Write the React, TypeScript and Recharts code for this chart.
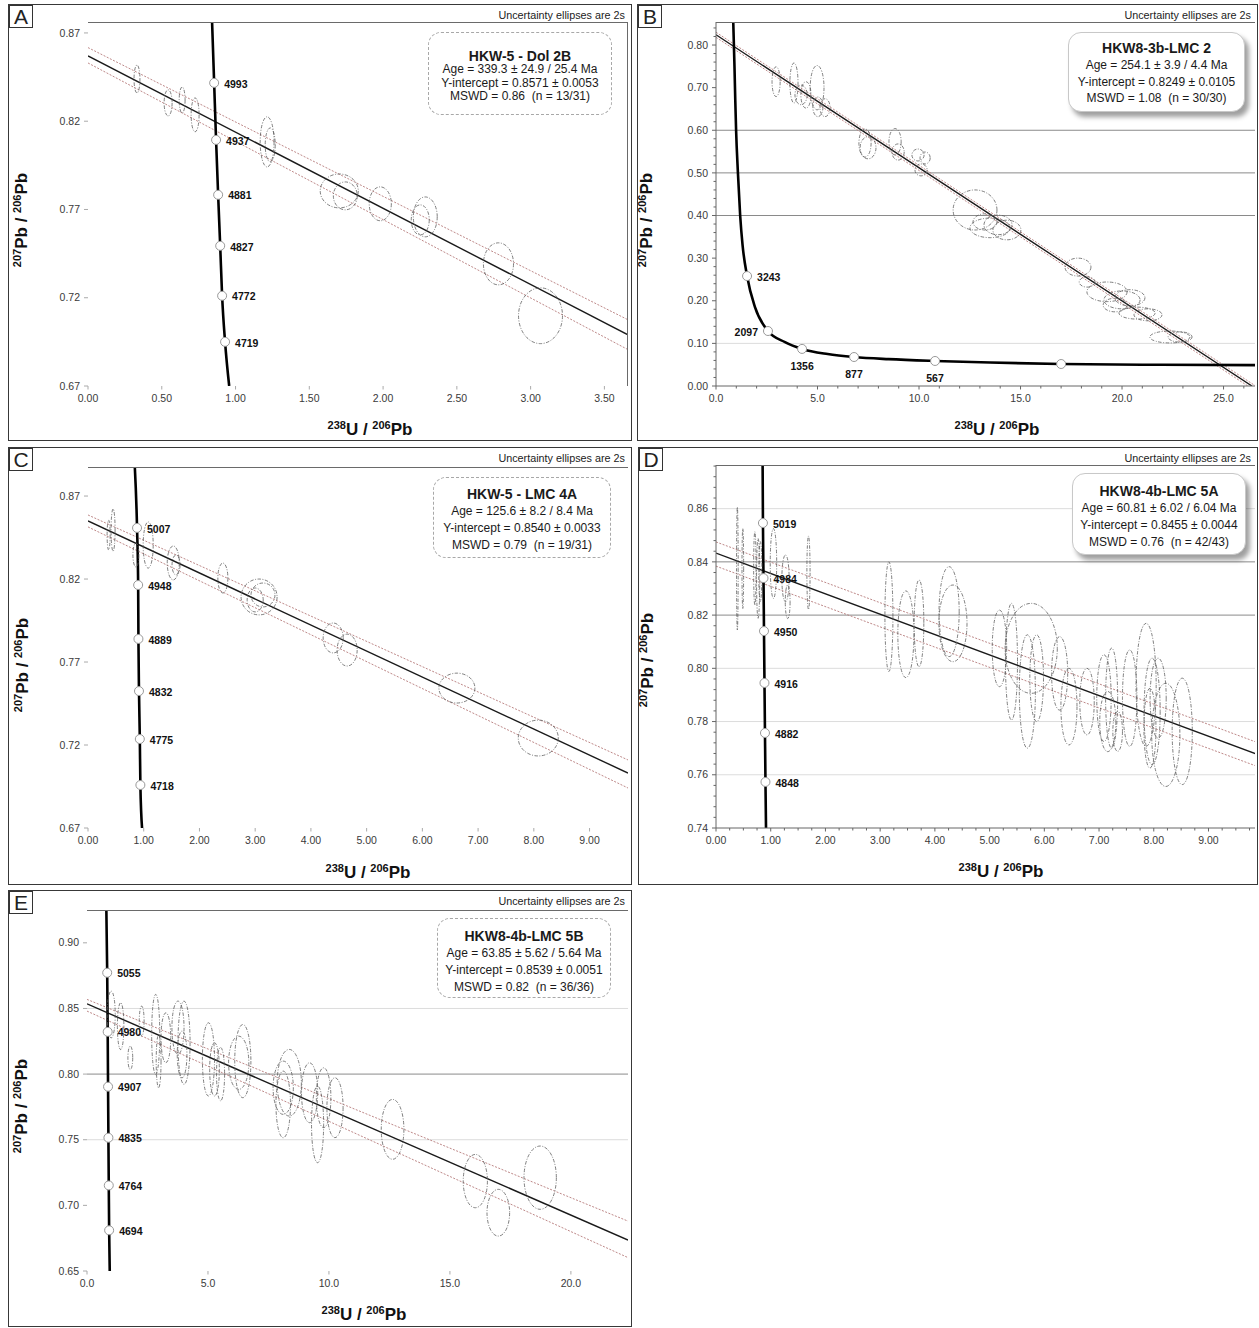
import React from 'react';
import { ComposedChart, XAxis, YAxis, Scatter, Line, ReferenceLine } from 'recharts';

const SANS = '"Liberation Sans", Arial, Helvetica, sans-serif';

type Pt = { x: number; y: number };
type Ell = { x: number; y: number; rx: number; ry: number };
type Mark = { x: number; y: number; age: string };

// tick helper (positions of minor ticks only)
const range = (a: number, b: number, s: number) => {
  const out: number[] = [];
  for (let v = a; v <= b + 1e-9; v += s) out.push(+v.toFixed(4));
  return out;
};

// ---------- A : HKW-5 - Dol 2B ----------
const aXTicks = [0, 0.5, 1, 1.5, 2, 2.5, 3, 3.5];
const aYTicks = [0.67, 0.72, 0.77, 0.82, 0.87];
const aRegression: Pt[] = [{ x: 0, y: 0.857 }, { x: 3.66, y: 0.699 }];
const aUpper: Pt[] = [{ x: 0, y: 0.8617 }, { x: 3.66, y: 0.7075 }];
const aLower: Pt[] = [{ x: 0, y: 0.853 }, { x: 3.66, y: 0.6906 }];
const aConcordia: Pt[] = [
  { x: 0.841, y: 0.8762 }, { x: 0.855, y: 0.8417 }, { x: 0.868, y: 0.8094 }, { x: 0.882, y: 0.7783 },
  { x: 0.896, y: 0.7494 }, { x: 0.909, y: 0.7211 }, { x: 0.929, y: 0.695 }, { x: 0.957, y: 0.67 },
];
const aAges: Mark[] = [
  { x: 0.855, y: 0.8417, age: '4993' }, { x: 0.868, y: 0.8094, age: '4937' }, { x: 0.882, y: 0.7783, age: '4881' },
  { x: 0.896, y: 0.7494, age: '4827' }, { x: 0.909, y: 0.7211, age: '4772' }, { x: 0.929, y: 0.695, age: '4719' },
];
const aEllipses: Ell[] = [
  { x: 0.332, y: 0.8439, rx: 0.02, ry: 0.0079 },
  { x: 0.543, y: 0.8304, rx: 0.027, ry: 0.0074 },
  { x: 0.638, y: 0.832, rx: 0.02, ry: 0.0074 },
  { x: 0.726, y: 0.8236, rx: 0.027, ry: 0.0096 },
  { x: 1.214, y: 0.8083, rx: 0.047, ry: 0.0142 },
  { x: 1.235, y: 0.8066, rx: 0.034, ry: 0.0096 },
  { x: 1.703, y: 0.7805, rx: 0.129, ry: 0.0096 },
  { x: 1.744, y: 0.7777, rx: 0.081, ry: 0.0079 },
  { x: 1.981, y: 0.7732, rx: 0.075, ry: 0.0096 },
  { x: 2.286, y: 0.7658, rx: 0.081, ry: 0.0113 },
  { x: 2.252, y: 0.7641, rx: 0.061, ry: 0.0085 },
  { x: 2.782, y: 0.7392, rx: 0.102, ry: 0.0119 },
  { x: 3.067, y: 0.7098, rx: 0.149, ry: 0.0158 },
];
const aInfo = ['HKW-5 - Dol 2B', 'Age = 339.3 ± 24.9 / 25.4 Ma', 'Y-intercept = 0.8571 ± 0.0053', 'MSWD = 0.86  (n = 13/31)'];

// ---------- B : HKW8-3b-LMC 2 ----------
const bXTicks = [0, 5, 10, 15, 20, 25];
const bYTicks = [0, 0.1, 0.2, 0.3, 0.4, 0.5, 0.6, 0.7, 0.8];
const bGridDark = [0.4, 0.5, 0.6];
const bGridLight = [0.1];
const bRegression: Pt[] = [{ x: 0, y: 0.824 }, { x: 26.4, y: 0 }];
const bUpper: Pt[] = [{ x: 0, y: 0.83 }, { x: 26.55, y: 0.001 }];
const bLower: Pt[] = [{ x: 0, y: 0.818 }, { x: 26.2, y: 0 }];
const bConcordia: Pt[] = [
  { x: 0.85, y: 0.854 }, { x: 0.91, y: 0.75 }, { x: 0.95, y: 0.67 }, { x: 0.99, y: 0.6 }, { x: 1.08, y: 0.5 },
  { x: 1.19, y: 0.4 }, { x: 1.31, y: 0.33 }, { x: 1.53, y: 0.258 }, { x: 1.92, y: 0.185 }, { x: 2.56, y: 0.129 },
  { x: 3.4, y: 0.103 }, { x: 4.24, y: 0.087 }, { x: 5.5, y: 0.075 }, { x: 6.8, y: 0.068 }, { x: 8.5, y: 0.063 },
  { x: 10.79, y: 0.0587 }, { x: 13.5, y: 0.055 }, { x: 17.0, y: 0.0516 }, { x: 21.0, y: 0.05 }, { x: 26.55, y: 0.049 },
];
const bAges: Mark[] = [
  { x: 1.53, y: 0.258, age: '3243' }, { x: 2.56, y: 0.129, age: '2097' }, { x: 4.24, y: 0.087, age: '1356' },
  { x: 6.8, y: 0.068, age: '877' }, { x: 10.79, y: 0.0587, age: '567' }, { x: 17.0, y: 0.0516, age: '' },
];
const bLabelSide: Record<string, string> = { '3243': 'right', '2097': 'left', '1356': 'below', '877': 'below', '567': 'below' };
const bEllipses: Ell[] = [
  { x: 2.96, y: 0.714, rx: 0.2, ry: 0.035 },
  { x: 3.84, y: 0.711, rx: 0.2, ry: 0.047 },
  { x: 4.19, y: 0.683, rx: 0.3, ry: 0.023 },
  { x: 4.43, y: 0.683, rx: 0.25, ry: 0.031 },
  { x: 4.98, y: 0.7, rx: 0.34, ry: 0.052 },
  { x: 5.02, y: 0.655, rx: 0.25, ry: 0.023 },
  { x: 5.37, y: 0.653, rx: 0.25, ry: 0.021 },
  { x: 7.34, y: 0.57, rx: 0.3, ry: 0.033 },
  { x: 7.49, y: 0.559, rx: 0.39, ry: 0.026 },
  { x: 8.82, y: 0.573, rx: 0.3, ry: 0.031 },
  { x: 8.97, y: 0.549, rx: 0.3, ry: 0.019 },
  { x: 9.95, y: 0.542, rx: 0.3, ry: 0.014 },
  { x: 10.1, y: 0.507, rx: 0.3, ry: 0.014 },
  { x: 10.3, y: 0.535, rx: 0.25, ry: 0.014 },
  { x: 12.76, y: 0.413, rx: 1.08, ry: 0.047 },
  { x: 13.25, y: 0.385, rx: 0.59, ry: 0.019 },
  { x: 13.5, y: 0.371, rx: 0.99, ry: 0.023 },
  { x: 13.89, y: 0.378, rx: 0.69, ry: 0.023 },
  { x: 14.33, y: 0.366, rx: 0.69, ry: 0.023 },
  { x: 17.83, y: 0.279, rx: 0.64, ry: 0.021 },
  { x: 18.28, y: 0.244, rx: 0.39, ry: 0.012 },
  { x: 19.26, y: 0.221, rx: 0.99, ry: 0.023 },
  { x: 19.66, y: 0.19, rx: 0.59, ry: 0.016 },
  { x: 20.0, y: 0.202, rx: 0.89, ry: 0.021 },
  { x: 20.39, y: 0.207, rx: 0.74, ry: 0.019 },
  { x: 20.74, y: 0.171, rx: 0.89, ry: 0.014 },
  { x: 21.28, y: 0.167, rx: 0.69, ry: 0.014 },
  { x: 22.36, y: 0.115, rx: 0.99, ry: 0.014 },
  { x: 22.86, y: 0.115, rx: 0.59, ry: 0.012 },
];
const bInfo = ['HKW8-3b-LMC 2', 'Age = 254.1 ± 3.9 / 4.4 Ma', 'Y-intercept = 0.8249 ± 0.0105', 'MSWD = 1.08  (n = 30/30)'];

// ---------- C : HKW-5 - LMC 4A ----------
const cXTicks = [0, 1, 2, 3, 4, 5, 6, 7, 8, 9];
const cYTicks = [0.67, 0.72, 0.77, 0.82, 0.87];
const cRegression: Pt[] = [{ x: 0, y: 0.855 }, { x: 9.69, y: 0.7031 }];
const cUpper: Pt[] = [{ x: 0, y: 0.8586 }, { x: 9.69, y: 0.711 }];
const cLower: Pt[] = [{ x: 0, y: 0.8514 }, { x: 9.69, y: 0.6941 }];
const cConcordia: Pt[] = [
  { x: 0.84, y: 0.8875 }, { x: 0.88, y: 0.8508 }, { x: 0.9, y: 0.8164 }, { x: 0.905, y: 0.7839 },
  { x: 0.915, y: 0.7525 }, { x: 0.93, y: 0.7236 }, { x: 0.94, y: 0.6959 }, { x: 0.97, y: 0.67 },
];
const cAges: Mark[] = [
  { x: 0.88, y: 0.8508, age: '5007' }, { x: 0.9, y: 0.8164, age: '4948' }, { x: 0.905, y: 0.7839, age: '4889' },
  { x: 0.915, y: 0.7525, age: '4832' }, { x: 0.93, y: 0.7236, age: '4775' }, { x: 0.94, y: 0.6959, age: '4718' },
];
const cEllipses: Ell[] = [
  { x: 0.45, y: 0.8495, rx: 0.036, ry: 0.0127 },
  { x: 0.37, y: 0.8465, rx: 0.027, ry: 0.009 },
  { x: 1.08, y: 0.8405, rx: 0.09, ry: 0.0139 },
  { x: 0.86, y: 0.8345, rx: 0.054, ry: 0.0072 },
  { x: 1.53, y: 0.8297, rx: 0.108, ry: 0.0102 },
  { x: 1.58, y: 0.8285, rx: 0.072, ry: 0.006 },
  { x: 2.42, y: 0.8206, rx: 0.09, ry: 0.009 },
  { x: 3.07, y: 0.8092, rx: 0.323, ry: 0.0108 },
  { x: 3.14, y: 0.8104, rx: 0.215, ry: 0.0072 },
  { x: 3.0, y: 0.8074, rx: 0.144, ry: 0.0072 },
  { x: 4.4, y: 0.7845, rx: 0.18, ry: 0.009 },
  { x: 4.65, y: 0.7772, rx: 0.18, ry: 0.0096 },
  { x: 6.62, y: 0.7543, rx: 0.323, ry: 0.009 },
  { x: 8.08, y: 0.7242, rx: 0.359, ry: 0.0108 },
];
const cInfo = ['HKW-5 - LMC 4A', 'Age = 125.6 ± 8.2 / 8.4 Ma', 'Y-intercept = 0.8540 ± 0.0033', 'MSWD = 0.79  (n = 19/31)'];

// ---------- D : HKW8-4b-LMC 5A ----------
const dXTicks = [0, 1, 2, 3, 4, 5, 6, 7, 8, 9];
const dYTicks = [0.74, 0.76, 0.78, 0.8, 0.82, 0.84, 0.86];
const dGridDark = [0.82, 0.84];
const dGridLight = [0.76, 0.78, 0.8, 0.86];
const dRegression: Pt[] = [{ x: 0, y: 0.8433 }, { x: 9.87, y: 0.7678 }];
const dUpper: Pt[] = [{ x: 0, y: 0.8475 }, { x: 9.87, y: 0.7723 }];
const dLower: Pt[] = [{ x: 0, y: 0.8384 }, { x: 9.87, y: 0.7633 }];
const dConcordia: Pt[] = [
  { x: 0.852, y: 0.8764 }, { x: 0.858, y: 0.8546 }, { x: 0.868, y: 0.8339 }, { x: 0.877, y: 0.814 },
  { x: 0.886, y: 0.7945 }, { x: 0.895, y: 0.7757 }, { x: 0.904, y: 0.7573 }, { x: 0.914, y: 0.74 },
];
const dAges: Mark[] = [
  { x: 0.858, y: 0.8546, age: '5019' }, { x: 0.868, y: 0.8339, age: '4984' }, { x: 0.877, y: 0.814, age: '4950' },
  { x: 0.886, y: 0.7945, age: '4916' }, { x: 0.895, y: 0.7757, age: '4882' }, { x: 0.904, y: 0.7573, age: '4848' },
];
const dEllipses: Ell[] = [
  { x: 0.39, y: 0.8375, rx: 0.015, ry: 0.0231 },
  { x: 0.49, y: 0.8375, rx: 0.015, ry: 0.015 },
  { x: 0.71, y: 0.8375, rx: 0.022, ry: 0.0138 },
  { x: 0.77, y: 0.8338, rx: 0.029, ry: 0.015 },
  { x: 0.81, y: 0.8363, rx: 0.029, ry: 0.0113 },
  { x: 1.05, y: 0.8394, rx: 0.059, ry: 0.0131 },
  { x: 1.27, y: 0.8338, rx: 0.066, ry: 0.0088 },
  { x: 1.31, y: 0.825, rx: 0.044, ry: 0.0063 },
  { x: 1.69, y: 0.8359, rx: 0.029, ry: 0.0138 },
  { x: 3.16, y: 0.8194, rx: 0.073, ry: 0.0206 },
  { x: 3.47, y: 0.8128, rx: 0.147, ry: 0.0163 },
  { x: 3.71, y: 0.8169, rx: 0.088, ry: 0.0163 },
  { x: 4.26, y: 0.8213, rx: 0.184, ry: 0.0169 },
  { x: 4.33, y: 0.8169, rx: 0.257, ry: 0.0144 },
  { x: 5.18, y: 0.8075, rx: 0.132, ry: 0.0144 },
  { x: 5.4, y: 0.8025, rx: 0.11, ry: 0.0219 },
  { x: 5.76, y: 0.8075, rx: 0.477, ry: 0.0169 },
  { x: 5.69, y: 0.7913, rx: 0.147, ry: 0.0213 },
  { x: 5.86, y: 0.7963, rx: 0.125, ry: 0.0163 },
  { x: 6.28, y: 0.7981, rx: 0.147, ry: 0.0138 },
  { x: 6.45, y: 0.7856, rx: 0.147, ry: 0.0144 },
  { x: 6.78, y: 0.7875, rx: 0.132, ry: 0.0125 },
  { x: 7.09, y: 0.7888, rx: 0.132, ry: 0.0163 },
  { x: 7.16, y: 0.78, rx: 0.147, ry: 0.0113 },
  { x: 7.23, y: 0.7888, rx: 0.11, ry: 0.0188 },
  { x: 7.34, y: 0.7763, rx: 0.088, ry: 0.0075 },
  { x: 7.56, y: 0.7888, rx: 0.132, ry: 0.0181 },
  { x: 7.86, y: 0.7938, rx: 0.184, ry: 0.0231 },
  { x: 7.93, y: 0.7775, rx: 0.11, ry: 0.015 },
  { x: 7.97, y: 0.7838, rx: 0.147, ry: 0.02 },
  { x: 8.08, y: 0.7888, rx: 0.147, ry: 0.015 },
  { x: 8.22, y: 0.775, rx: 0.257, ry: 0.0194 },
  { x: 8.52, y: 0.7763, rx: 0.184, ry: 0.02 },
];
const dInfo = ['HKW8-4b-LMC 5A', 'Age = 60.81 ± 6.02 / 6.04 Ma', 'Y-intercept = 0.8455 ± 0.0044', 'MSWD = 0.76  (n = 42/43)'];

// ---------- E : HKW8-4b-LMC 5B ----------
const eXTicks = [0, 5, 10, 15, 20];
const eYTicks = [0.65, 0.7, 0.75, 0.8, 0.85, 0.9];
const eGridDark = [0.8];
const eGridLight = [0.75, 0.85];
const eRegression: Pt[] = [{ x: 0, y: 0.8535 }, { x: 22.36, y: 0.6736 }];
const eUpper: Pt[] = [{ x: 0, y: 0.8569 }, { x: 22.36, y: 0.688 }];
const eLower: Pt[] = [{ x: 0, y: 0.848 }, { x: 22.36, y: 0.6602 }];
const eConcordia: Pt[] = [
  { x: 0.8, y: 0.925 }, { x: 0.835, y: 0.8772 }, { x: 0.855, y: 0.8322 }, { x: 0.87, y: 0.7904 },
  { x: 0.885, y: 0.7515 }, { x: 0.9, y: 0.7152 }, { x: 0.915, y: 0.681 }, { x: 0.94, y: 0.65 },
];
const eAges: Mark[] = [
  { x: 0.835, y: 0.8772, age: '5055' }, { x: 0.855, y: 0.8322, age: '4980' }, { x: 0.87, y: 0.7904, age: '4907' },
  { x: 0.885, y: 0.7515, age: '4835' }, { x: 0.9, y: 0.7152, age: '4764' }, { x: 0.915, y: 0.681, age: '4694' },
];
const eEllipses: Ell[] = [
  { x: 1.0, y: 0.8454, rx: 0.167, ry: 0.0178 },
  { x: 1.39, y: 0.8365, rx: 0.134, ry: 0.0178 },
  { x: 1.79, y: 0.8124, rx: 0.1, ry: 0.0089 },
  { x: 2.26, y: 0.8404, rx: 0.1, ry: 0.0114 },
  { x: 2.84, y: 0.8302, rx: 0.167, ry: 0.0305 },
  { x: 2.96, y: 0.8099, rx: 0.1, ry: 0.0203 },
  { x: 3.26, y: 0.8277, rx: 0.2, ry: 0.019 },
  { x: 3.76, y: 0.8353, rx: 0.25, ry: 0.0203 },
  { x: 4.01, y: 0.8239, rx: 0.25, ry: 0.0317 },
  { x: 3.93, y: 0.815, rx: 0.2, ry: 0.0178 },
  { x: 5.02, y: 0.8112, rx: 0.25, ry: 0.0279 },
  { x: 5.27, y: 0.8036, rx: 0.2, ry: 0.0203 },
  { x: 5.52, y: 0.8, rx: 0.167, ry: 0.0203 },
  { x: 6.27, y: 0.8086, rx: 0.418, ry: 0.0203 },
  { x: 6.44, y: 0.8099, rx: 0.334, ry: 0.0279 },
  { x: 8.11, y: 0.7896, rx: 0.418, ry: 0.0203 },
  { x: 8.36, y: 0.7934, rx: 0.5, ry: 0.0254 },
  { x: 8.11, y: 0.7769, rx: 0.3, ry: 0.0254 },
  { x: 9.2, y: 0.7858, rx: 0.334, ry: 0.0228 },
  { x: 9.53, y: 0.7617, rx: 0.25, ry: 0.0292 },
  { x: 9.78, y: 0.782, rx: 0.3, ry: 0.0228 },
  { x: 10.25, y: 0.7744, rx: 0.334, ry: 0.0228 },
  { x: 12.63, y: 0.7579, rx: 0.468, ry: 0.0228 },
  { x: 16.05, y: 0.7185, rx: 0.5, ry: 0.0203 },
  { x: 17.0, y: 0.6944, rx: 0.468, ry: 0.0178 },
  { x: 18.73, y: 0.7211, rx: 0.669, ry: 0.0241 },
];
const eInfo = ['HKW8-4b-LMC 5B', 'Age = 63.85 ± 5.62 / 5.64 Ma', 'Y-intercept = 0.8539 ± 0.0051', 'MSWD = 0.82  (n = 36/36)'];

type PanelCfg = {
  letter: string;
  box: { x: number; y: number; w: number; h: number };
  plot: { l: number; t: number; r: number; b: number };
  xDomain: [number, number];
  yDomain: [number, number];
  xTicks: number[]; xAll: number[]; xDec: number;
  yTicks: number[]; yAll: number[]; yDec: number;
  axisLine: boolean; frameRight: boolean;
  gridDark: number[]; gridLight: number[];
  ellipses: Ell[]; regression: Pt[]; upper: Pt[]; lower: Pt[]; concordia: Pt[]; ages: Mark[];
  labelSide: Record<string, string>;
  info: string[];
  infoBox: { x: number; y: number; w: number; h: number; pad: number; tlh: number; lh: number; shadow: boolean };
  yLabel: { x: number; y: number };
  xLabel: { x: number; y: number };
};

const panels: PanelCfg[] = [
  {
    letter: 'A', box: { x: 8, y: 4, w: 624, h: 437 }, plot: { l: 88, t: 22, r: 628, b: 386 },
    xDomain: [0, 3.66], yDomain: [0.67, 0.8762],
    xTicks: aXTicks, xAll: aXTicks, xDec: 2, yTicks: aYTicks, yAll: aYTicks, yDec: 2,
    axisLine: false, frameRight: true, gridDark: [], gridLight: [],
    ellipses: aEllipses, regression: aRegression, upper: aUpper, lower: aLower, concordia: aConcordia, ages: aAges,
    labelSide: {}, info: aInfo,
    infoBox: { x: 428, y: 32, w: 184, h: 83, pad: 16, tlh: 14, lh: 13.5, shadow: false },
    yLabel: { x: 22, y: 220 }, xLabel: { x: 370, y: 430 },
  },
  {
    letter: 'B', box: { x: 637, y: 4, w: 621, h: 437 }, plot: { l: 716, t: 22, r: 1255, b: 386 },
    xDomain: [0, 26.55], yDomain: [0, 0.854],
    xTicks: bXTicks, xAll: range(0, 26, 1), xDec: 1, yTicks: bYTicks, yAll: range(0, 0.84, 0.02), yDec: 2,
    axisLine: true, frameRight: false, gridDark: bGridDark, gridLight: bGridLight,
    ellipses: bEllipses, regression: bRegression, upper: bUpper, lower: bLower, concordia: bConcordia, ages: bAges,
    labelSide: bLabelSide, info: bInfo,
    infoBox: { x: 1068, y: 32, w: 177, h: 80, pad: 6, tlh: 18, lh: 16.5, shadow: true },
    yLabel: { x: 647, y: 220 }, xLabel: { x: 997, y: 430 },
  },
  {
    letter: 'C', box: { x: 8, y: 447, w: 624, h: 438 }, plot: { l: 88, t: 467, r: 628, b: 828 },
    xDomain: [0, 9.69], yDomain: [0.67, 0.8875],
    xTicks: cXTicks, xAll: cXTicks, xDec: 2, yTicks: cYTicks, yAll: cYTicks, yDec: 2,
    axisLine: false, frameRight: false, gridDark: [], gridLight: [],
    ellipses: cEllipses, regression: cRegression, upper: cUpper, lower: cLower, concordia: cConcordia, ages: cAges,
    labelSide: {}, info: cInfo,
    infoBox: { x: 433, y: 477, w: 178, h: 81, pad: 7, tlh: 18, lh: 16.8, shadow: false },
    yLabel: { x: 23, y: 665 }, xLabel: { x: 368, y: 873 },
  },
  {
    letter: 'D', box: { x: 638, y: 447, w: 620, h: 438 }, plot: { l: 716, t: 465, r: 1255, b: 828 },
    xDomain: [0, 9.85], yDomain: [0.74, 0.8764],
    xTicks: dXTicks, xAll: range(0, 9.75, 0.25), xDec: 2, yTicks: dYTicks, yAll: range(0.74, 0.876, 0.004), yDec: 2,
    axisLine: true, frameRight: false, gridDark: dGridDark, gridLight: dGridLight,
    ellipses: dEllipses, regression: dRegression, upper: dUpper, lower: dLower, concordia: dConcordia, ages: dAges,
    labelSide: {}, info: dInfo,
    infoBox: { x: 1072, y: 473, w: 174, h: 82, pad: 8, tlh: 18, lh: 17, shadow: true },
    yLabel: { x: 648, y: 660 }, xLabel: { x: 1001, y: 872 },
  },
  {
    letter: 'E', box: { x: 8, y: 890, w: 624, h: 437 }, plot: { l: 87, t: 910, r: 628, b: 1271 },
    xDomain: [0, 22.36], yDomain: [0.65, 0.925],
    xTicks: eXTicks, xAll: eXTicks, xDec: 1, yTicks: eYTicks, yAll: eYTicks, yDec: 2,
    axisLine: false, frameRight: false, gridDark: eGridDark, gridLight: eGridLight,
    ellipses: eEllipses, regression: eRegression, upper: eUpper, lower: eLower, concordia: eConcordia, ages: eAges,
    labelSide: {}, info: eInfo,
    infoBox: { x: 437, y: 918, w: 174, h: 80, pad: 8, tlh: 18, lh: 17, shadow: false },
    yLabel: { x: 22, y: 1106 }, xLabel: { x: 364, y: 1315 },
  },
];

const Sup = ({ children }: { children: React.ReactNode }) => (
  <span style={{ fontSize: 11, position: 'relative', top: -6 }}>{children}</span>
);

function Panel({ p }: { p: PanelCfg }) {
  const { box, plot, infoBox } = p;
  const kx = (plot.r - plot.l) / (p.xDomain[1] - p.xDomain[0]);
  const ky = (plot.b - plot.t) / (p.yDomain[1] - p.yDomain[0]);
  const isMajor = (list: number[], v: number) => list.some((m) => Math.abs(m - v) < 1e-7);
  const tickColor = p.axisLine ? '#666' : '#aaa';

  const ellipseShape = (props: any) => (
    <ellipse
      cx={props.cx}
      cy={props.cy}
      rx={props.payload.rx * kx}
      ry={props.payload.ry * ky}
      fill="none"
      stroke="#5e5e5e"
      strokeWidth={0.8}
      strokeDasharray="3.5 1.5 1 1.5"
    />
  );

  const ageShape = (props: any) => {
    const { cx, cy, payload } = props;
    const side = p.labelSide[payload.age] || 'right';
    let tx = cx + 10;
    let ty = cy + 1;
    let anchor = 'start';
    if (side === 'left') { tx = cx - 10; anchor = 'end'; }
    if (side === 'below') { tx = cx; ty = cy + 17; anchor = 'middle'; }
    return (
      <g>
        <circle cx={cx} cy={cy} r={4.5} fill="#fff" stroke="#999" strokeWidth={1} />
        {payload.age ? (
          <text x={tx} y={ty} dy="0.35em" textAnchor={anchor} fontSize={10.5} fontWeight="bold" fill="#111" fontFamily={SANS}>
            {payload.age}
          </text>
        ) : null}
      </g>
    );
  };

  const yTick = (props: any) => {
    const { x, y, payload } = props;
    const major = isMajor(p.yTicks, payload.value);
    return (
      <g>
        <line x1={x - (major ? 4 : 2.5)} x2={x} y1={y} y2={y} stroke={tickColor} strokeWidth={1} />
        {major ? (
          <text x={x - 8} y={y} dy="0.35em" textAnchor="end" fontSize={10.5} fill="#3a3a3a" fontFamily={SANS}>
            {Number(payload.value).toFixed(p.yDec)}
          </text>
        ) : null}
      </g>
    );
  };

  const xTick = (props: any) => {
    const { x, y, payload } = props;
    const major = isMajor(p.xTicks, payload.value);
    return (
      <g>
        <line x1={x} x2={x} y1={y} y2={y + (major ? 3.5 : 2.5)} stroke={tickColor} strokeWidth={1} />
        {major ? (
          <text x={x} y={y + 12} dy="0.35em" textAnchor="middle" fontSize={10.5} fill="#3a3a3a" fontFamily={SANS}>
            {Number(payload.value).toFixed(p.xDec)}
          </text>
        ) : null}
      </g>
    );
  };

  return (
    <>
      <div
        style={{
          position: 'absolute', left: box.x, top: box.y, width: box.w, height: box.h,
          border: '1.5px solid #383838', boxSizing: 'border-box',
        }}
      />
      <div
        style={{
          position: 'absolute', left: box.x + 1, top: box.y + 1, width: 24, height: 23,
          border: '1.5px solid #333', boxSizing: 'border-box', fontFamily: SANS, fontSize: 21,
          lineHeight: '21px', textAlign: 'center', color: '#222',
        }}
      >
        {p.letter}
      </div>
      <div
        style={{
          position: 'absolute', left: box.x, top: box.y + 4, width: box.w - 7, textAlign: 'right',
          fontFamily: SANS, fontSize: 10.8, lineHeight: '14px', color: '#222', whiteSpace: 'nowrap',
        }}
      >
        Uncertainty ellipses are 2s
      </div>
      <div style={{ position: 'absolute', left: box.x, top: box.y }}>
        <ComposedChart
          width={box.w}
          height={box.h}
          margin={{ top: plot.t - box.y, right: box.x + box.w - plot.r, left: 0, bottom: 0 }}
        >
          <XAxis
            type="number"
            dataKey="x"
            domain={p.xDomain}
            allowDataOverflow
            ticks={p.xAll}
            interval={0}
            tickSize={0}
            tickMargin={0}
            tickLine={false}
            axisLine={p.axisLine ? { stroke: '#666' } : false}
            height={box.y + box.h - plot.b}
            tick={xTick}
          />
          <YAxis
            type="number"
            dataKey="y"
            domain={p.yDomain}
            allowDataOverflow
            ticks={p.yAll}
            interval={0}
            tickSize={0}
            tickMargin={0}
            tickLine={false}
            axisLine={p.axisLine ? { stroke: '#666' } : false}
            width={plot.l - box.x}
            tick={yTick}
          />
          {p.gridLight.map((v) => (
            <ReferenceLine key={'l' + v} y={v} stroke="#dcdcdc" strokeWidth={1} ifOverflow="hidden" />
          ))}
          {p.gridDark.map((v) => (
            <ReferenceLine key={'d' + v} y={v} stroke="#8a8a8a" strokeWidth={1} ifOverflow="hidden" />
          ))}
          <Scatter data={p.ellipses} shape={ellipseShape} isAnimationActive={false} />
          <Line data={p.upper} dataKey="y" type="linear" stroke="#b57b7b" strokeWidth={0.9} strokeDasharray="2 1.5" dot={false} activeDot={false} isAnimationActive={false} />
          <Line data={p.lower} dataKey="y" type="linear" stroke="#b57b7b" strokeWidth={0.9} strokeDasharray="2 1.5" dot={false} activeDot={false} isAnimationActive={false} />
          <Line data={p.regression} dataKey="y" type="linear" stroke="#1a1a1a" strokeWidth={1.4} dot={false} activeDot={false} isAnimationActive={false} />
          <Line data={p.concordia} dataKey="y" type="monotone" stroke="#000" strokeWidth={2.6} dot={false} activeDot={false} isAnimationActive={false} />
          <Scatter data={p.ages} shape={ageShape} isAnimationActive={false} />
        </ComposedChart>
      </div>
      <div
        style={{
          position: 'absolute', left: plot.l, top: plot.t, width: plot.r - plot.l, height: plot.b - plot.t,
          borderTop: '1px solid #6a6a6a', borderRight: p.frameRight ? '1px solid #6a6a6a' : 'none',
          boxSizing: 'border-box', pointerEvents: 'none',
        }}
      />
      <div
        style={{
          position: 'absolute', left: infoBox.x, top: infoBox.y, width: infoBox.w, height: infoBox.h,
          boxSizing: 'border-box', borderRadius: 13, background: '#fff',
          border: infoBox.shadow ? '1px solid #c8c8c8' : '1px dashed #a8a8a8',
          boxShadow: infoBox.shadow ? '4px 5px 5px rgba(0,0,0,0.38)' : 'none',
          paddingTop: infoBox.pad, textAlign: 'center', fontFamily: SANS, color: '#1a1a1a', whiteSpace: 'pre',
        }}
      >
        <div style={{ fontSize: 14, fontWeight: 'bold', lineHeight: infoBox.tlh + 'px' }}>{p.info[0]}</div>
        {p.info.slice(1).map((t) => (
          <div key={t} style={{ fontSize: 12, lineHeight: infoBox.lh + 'px' }}>{t}</div>
        ))}
      </div>
      <div
        style={{
          position: 'absolute', left: p.yLabel.x, top: p.yLabel.y, transform: 'translate(-50%, -50%) rotate(-90deg)',
          fontFamily: SANS, fontWeight: 'bold', fontSize: 17, lineHeight: '20px', whiteSpace: 'nowrap', color: '#111',
        }}
      >
        <Sup>207</Sup>Pb / <Sup>206</Sup>Pb
      </div>
      <div
        style={{
          position: 'absolute', left: p.xLabel.x, top: p.xLabel.y, transform: 'translate(-50%, -50%)',
          fontFamily: SANS, fontWeight: 'bold', fontSize: 17, lineHeight: '20px', whiteSpace: 'nowrap', color: '#111',
        }}
      >
        <Sup>238</Sup>U / <Sup>206</Sup>Pb
      </div>
    </>
  );
}

export default function App() {
  return (
    <div style={{ position: 'absolute', left: 0, top: 0, width: 1259, height: 1328, background: '#fff', overflow: 'hidden' }}>
      {panels.map((p) => (
        <Panel key={p.letter} p={p} />
      ))}
    </div>
  );
}
